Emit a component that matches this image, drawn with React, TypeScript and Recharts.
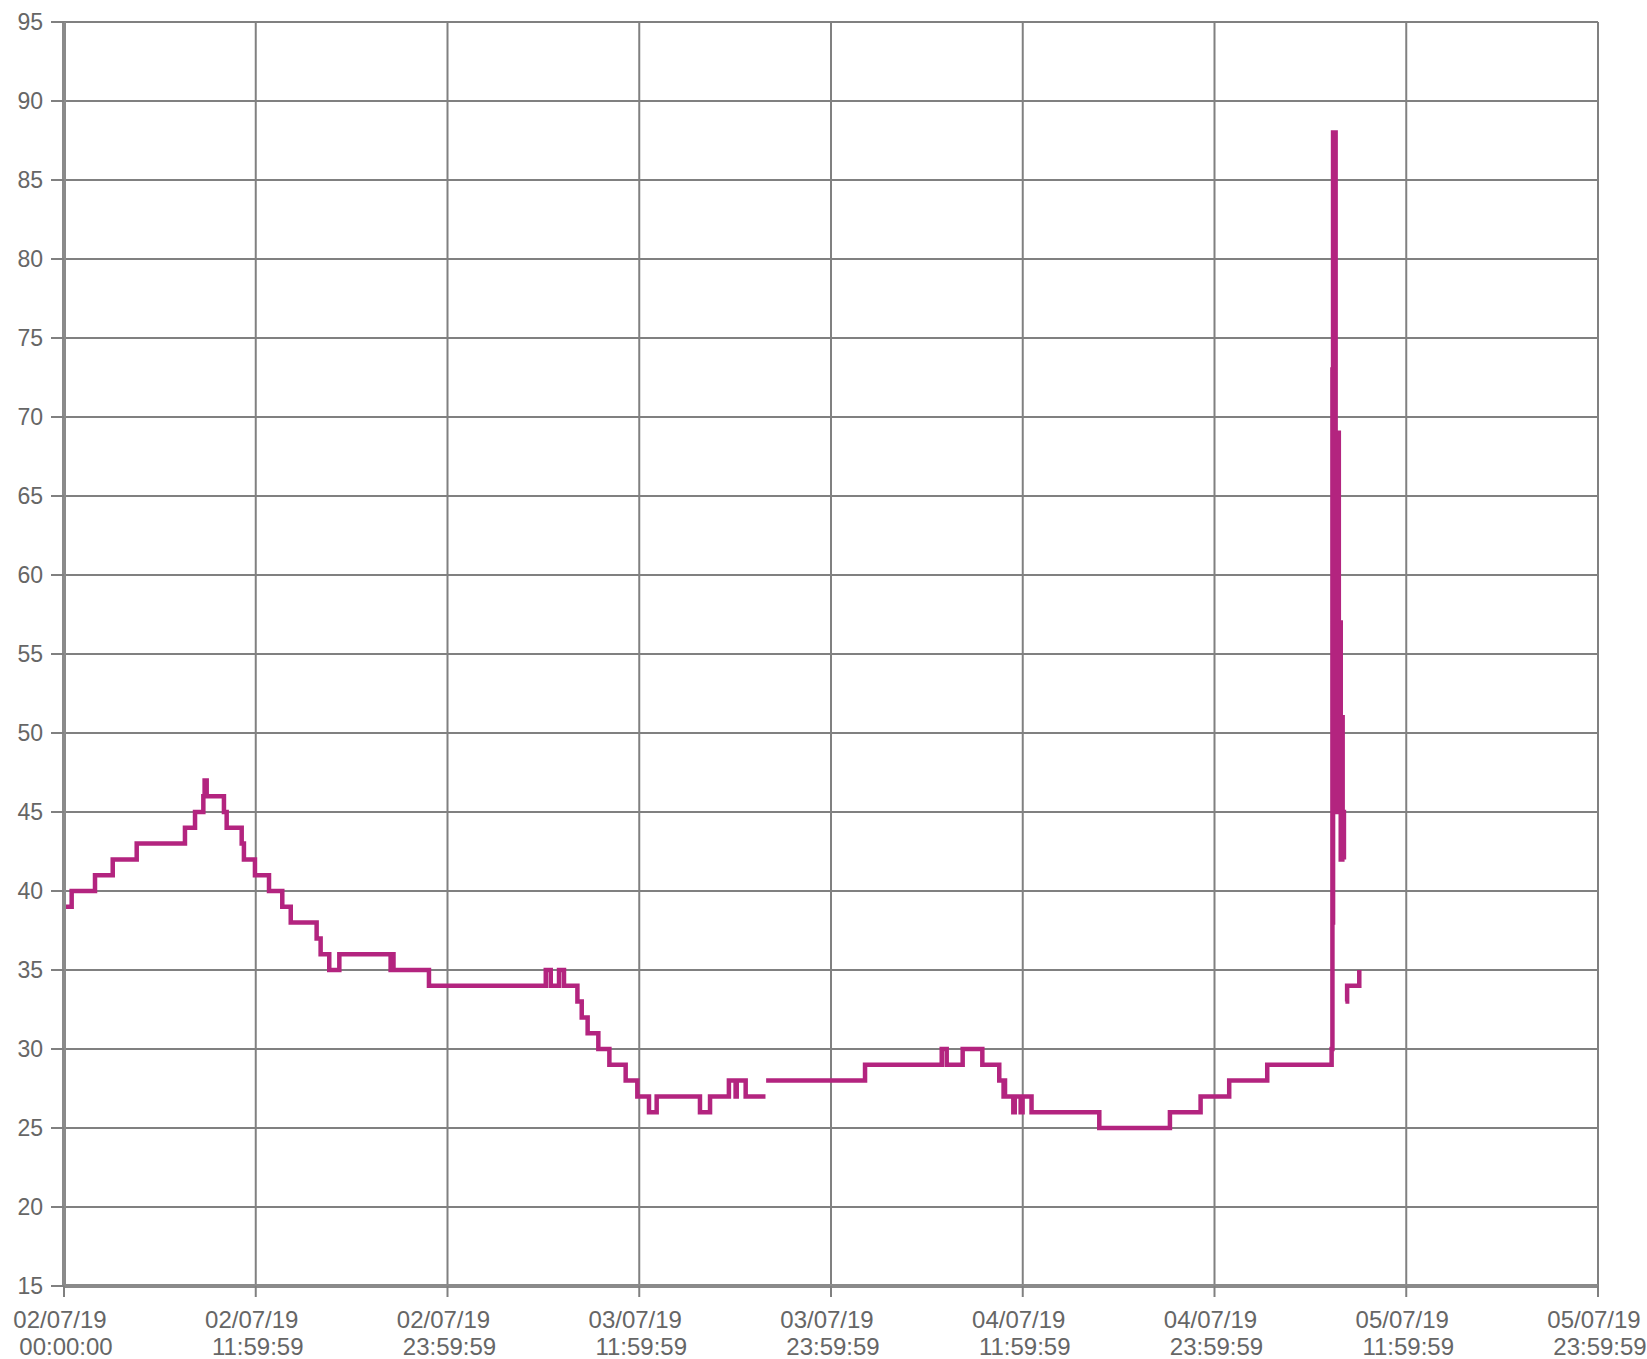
import React from "react";
import { CartesianGrid, Line, LineChart, XAxis, YAxis } from "recharts";

// hours since 02/07/19 00:00:00, step values (null = gap in the record)
const hours = [
  0, 0.48, 1.94, 3.05, 4.55, 7.57, 8.2, 8.72, 8.8, 8.93,
  10.01, 10.18, 11.12, 11.26, 11.95, 12.83, 13.66, 14.19, 15.81, 16.06,
  16.6, 17.23, 20.44, 20.55, 20.62, 22.84, 30.15, 30.46, 30.98, 31.29,
  32.13, 32.4, 32.77, 33.44, 34.13, 35.15, 35.88, 36.61, 37.09, 39.8,
  40.43, 41.61, 42.03, 42.1, 42.66, 43.9, 43.92, 43.94, 50.13, 54.93,
  55.24, 56.24, 57.47, 58.53, 58.8, 58.84, 58.89, 59.41, 59.5, 59.87,
  59.99, 60.55, 64.79, 69.21, 71.13, 72.92, 75.3, 79.33, 79.38, 79.4,
  79.42, 79.5, 79.52, 79.58, 79.62, 79.7, 79.74, 79.78, 79.84, 79.9,
  79.96, 80.02, 80.06, 80.1, 80.14, 80.16, 80.19, 80.3, 81.04, 81.06,
];

const values: (number | null)[] = [
  39, 40, 41, 42, 43, 44, 45, 46, 47, 46,
  45, 44, 43, 42, 41, 40, 39, 38, 37, 36,
  35, 36, 35, 36, 35, 34, 35, 34, 35, 34,
  33, 32, 31, 30, 29, 28, 27, 26, 27, 26,
  27, 28, 27, 28, 27, 27, null, 28, 29, 30,
  29, 30, 29, 28, 27, 28, 27, 26, 27, 26,
  27, 26, 25, 26, 27, 28, 29, 30, 73, 38,
  88, 80, 88, 60, 69, 45, 69, 50, 57, 42,
  51, 44, 45, 42, 42, null, 33, 34, 34, 35,
];

const xTicks = [0, 12, 24, 36, 48, 60, 72, 84, 96];
const tickDates = ["02/07/19", "02/07/19", "02/07/19", "03/07/19", "03/07/19", "04/07/19", "04/07/19", "05/07/19", "05/07/19"];
const tickTimes = ["00:00:00", "11:59:59", "23:59:59", "11:59:59", "23:59:59", "11:59:59", "23:59:59", "11:59:59", "23:59:59"];
const yTicks = [15, 20, 25, 30, 35, 40, 45, 50, 55, 60, 65, 70, 75, 80, 85, 90, 95];

const data = hours.map((h, i) => ({ h, v: values[i] }));

const font = "'Liberation Sans', Arial, sans-serif";
const gridColor = "#808080";
const textColor = "#666666";

const DateTick = (props: any) => {
  const { x, y, payload } = props;
  const i = xTicks.indexOf(payload.value);
  return (
    <g>
      <text x={x - 4} y={y + 29} textAnchor="middle" fill={textColor} fontSize={24} fontFamily={font}>
        {tickDates[i]}
      </text>
      <text x={x + 2} y={y + 56} textAnchor="middle" fill={textColor} fontSize={24} fontFamily={font}>
        {tickTimes[i]}
      </text>
    </g>
  );
};

export default function App() {
  return (
    <div style={{ position: "absolute", left: 0, top: 0, background: "#fff" }}>
      <LineChart width={1647} height={1359} data={data} margin={{ top: 22, right: 49, bottom: 0, left: 0 }}>
        <CartesianGrid stroke={gridColor} strokeWidth={2} />
        <XAxis
          dataKey="h"
          type="number"
          domain={[0, 96]}
          ticks={xTicks}
          height={73}
          tickSize={11}
          stroke={gridColor}
          axisLine={{ stroke: "#8a8a8a", strokeWidth: 4 }}
          tickLine={{ stroke: gridColor, strokeWidth: 2 }}
          tick={<DateTick />}
          interval={0}
        />
        <YAxis
          type="number"
          domain={[15, 95]}
          ticks={yTicks}
          width={64}
          tickSize={13}
          tickMargin={8}
          interval={0}
          axisLine={{ stroke: "#8a8a8a", strokeWidth: 4 }}
          tickLine={{ stroke: gridColor, strokeWidth: 2 }}
          tick={{ fill: textColor, fontSize: 23, fontFamily: font }}
        />
        <Line
          dataKey="v"
          type="stepAfter"
          stroke="#b3247f"
          strokeWidth={4.5}
          dot={false}
          activeDot={false}
          isAnimationActive={false}
        />
      </LineChart>
    </div>
  );
}
